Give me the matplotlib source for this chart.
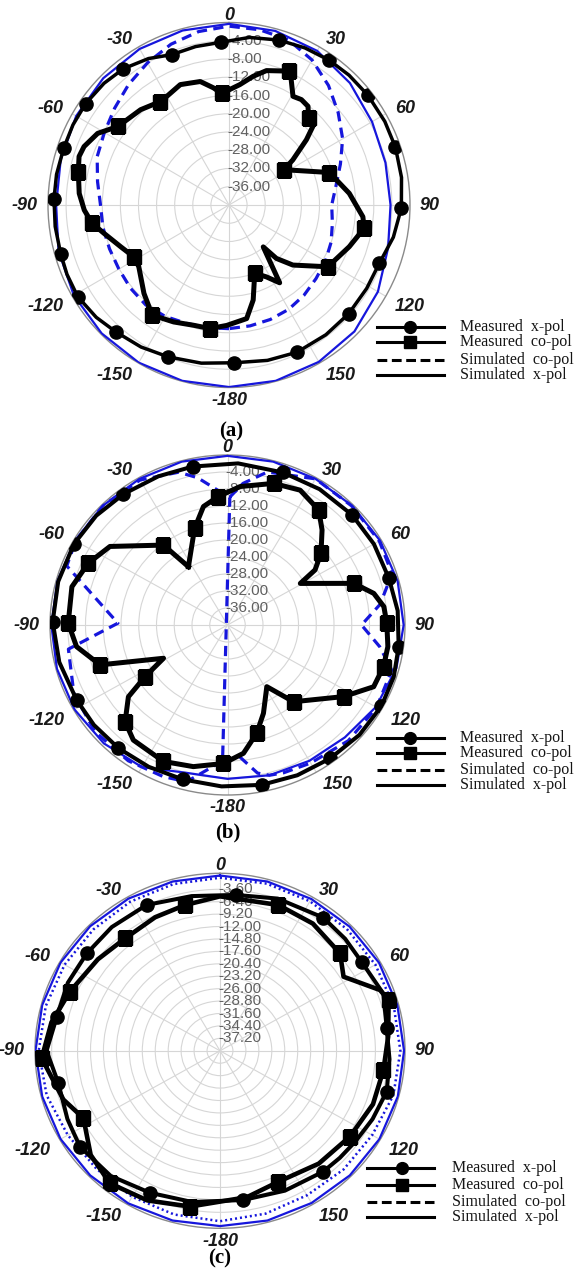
import numpy as np
import matplotlib
matplotlib.use("Agg")
import matplotlib.pyplot as plt
from matplotlib.lines import Line2D

W, H, DPI = 579, 1281, 100
BLUE = "#1616dc"

# angle labels round every chart
ang_ticks = [0, 30, 60, 90, 120, 150, 180, 210, 240, 270, 300, 330]
ang_labels = ["0", "30", "60", "90", "120", "150", "-180", "-150", "-120", "-90", "-60", "-30"]
legend_labels = ["Measured  x-pol", "Measured  co-pol", "Simulated  co-pol", "Simulated  x-pol"]

# ---------------- (a) ----------------
a_rings = [-36, -32, -28, -24, -20, -16, -12, -8, -4]
a_ring_labels = ["-36.00", "-32.00", "-28.00", "-24.00", "-20.00", "-16.00", "-12.00", "-8.00", "-4.00"]

a_xpol_ang = [-3, 7, 17, 26, 35, 43, 52, 62, 71, 81, 91, 101, 111, 121, 132, 143, 155, 166, 178,
              -170, -158, -148, -138, -130, -121, -113, -106, -97, -88, -80, -71, -63, -55, -46,
              -38, -29, -21, -12]
a_xpol_db = [-4.3, -3.0, -2.2, -1.7, -1.3, -1.1, -1.0, -1.0, -1.1, -1.4, -1.9, -3.0, -4.4, -4.5,
             -4.4, -4.4, -4.4, -4.9, -5.4, -4.8, -4.1, -3.3, -2.6, -1.7, -1.0, -1.1, -1.3, -1.3,
             -1.3, -1.3, -1.4, -1.3, -1.3, -1.6, -2.1, -3.3, -4.7, -4.5]

a_copol_ang = [-3.8, 5.2, 10.7, 15.7, 24.3, 26.6, 30.7, 34.7, 38.9, 42.8, 47.1, 50.1, 55.0, 57.5,
               72.2, 84.5, 95.0, 99.7, 109.0, 121.8, 133.0, 138.2, 140.5, 146.7, 152.3, 159.2,
               165.6, 171.1, -178.9, -171.2, -163.4, -154.5, -144.9, -135.9, -124.2, -118.4,
               -111.0, -102.7, -97.6, -92.0, -85.6, -77.6, -72.2, -68.2, -61.6, -55.0, -43.1,
               -34.0, -29.9, -22.2, -13.2, -7.6]
a_copol_db = [-15.5, -13.5, -11.3, -9.4, -7.8, -9.3, -12.3, -11.9, -12.2, -14.1, -14.7, -17.7,
              -22.8, -25.6, -16.7, -13.3, -10.3, -9.7, -11.9, -14.3, -20.7, -24.3, -28.1, -19.6,
              -22.2, -24.0, -18.5, -14.8, -13.6, -12.6, -12.5, -11.6, -10.5, -13.0, -15.9, -16.1,
              -14.4, -11.7, -9.5, -8.0, -6.8, -5.9, -5.2, -5.5, -7.0, -10.0, -11.4, -12.7, -12.5,
              -11.5, -12.2, -14.1]
a_copol_marks = [0, 4, 9, 13, 14, 17, 19, 25, 29, 32, 35, 38, 41, 45, 47]

a_simco_ang = list(range(-180, 180, 10))
a_simco_db = [-12.9, -12.7, -12.4, -11.8, -11.4, -11.6, -11.9, -11.9, -11.7, -11.6, -10.5, -9.0,
              -8.2, -7.0, -5.5, -4.0, -2.5, -1.4, -0.8, -1.0, -1.5, -3.3, -5.8, -8.5, -11.0,
              -13.8, -16.0, -17.3, -16.8, -16.0, -15.4, -14.9, -14.2, -13.6, -13.3, -13.1]

a_simx_ang = list(range(0, 360, 15))
a_simx_db = [-0.3, -0.5, -1.0, -2.2, -3.5, -4.2, -4.3, -3.6, -2.0, -0.8, -0.3, -0.1,
             -0.1, -0.1, -0.1, -0.2, -0.4, -1.0, -1.8, -1.5, -1.0, -0.7, -0.5, -0.4]

# ---------------- (b) ----------------
b_rings = a_rings
b_ring_labels = a_ring_labels

b_xpol_ang = [-11.9, 3.6, 19.2, 33, 47.3, 60, 73.2, 85, 97.5, 108, 118.9, 131, 143.6, 156, 168.4,
              -178, -164.5, -152, -139.7, -128, -117.4, -103, -88.9, -75, -61.2, -49, -37.3, -24]
b_xpol_db = [-1.9, -1.9, -2.0, -1.9, -1.8, -1.9, -2.0, -1.5, -1.1, -0.6, -0.4, -0.6, -1.0, -1.3,
             -1.6, -2.0, -2.3, -2.2, -2.0, -1.8, -1.7, -1.1, -0.6, -0.5, -0.5, -0.8, -1.3, -1.7]

b_copol_ang = [-32.7, -18.1, -11.0, -3.9, 5.0, 17.3, 27.3, 37.2, 43.6, 51.3, 56.7, 59.2, 71.0,
               77.3, 83.0, 89.4, 98.0, 105.6, 113.8, 122.8, 140.5, 148.6, 158.7, 165.5, 173.2,
               -178.4, -167.0, -155.8, -141.9, -134.6, -127.1, -123.2, -118.5, -108.1, -98.5,
               -89.3, -75.6, -65.2, -55.1, -37.5]
b_copol_db = [-23.7, -16.1, -11.6, -9.7, -7.3, -5.1, -4.3, -6.0, -9.1, -13.0, -16.4, -20.9, -9.9,
              -6.2, -4.5, -4.1, -3.5, -3.5, -4.0, -8.9, -16.6, -23.0, -17.7, -13.7, -9.6, -7.4,
              -5.8, -4.8, -5.6, -7.6, -12.0, -17.8, -23.6, -9.8, -5.6, -4.1, -3.8, -5.4, -7.7,
              -16.3]
b_copol_marks = [1, 3, 5, 7, 9, 12, 15, 17, 19, 20, 23, 25, 27, 29, 31, 33, 35, 37, 39]

b_simco_ang = [1, 6, 14, 30, 45, 60, 72, 82, 90, 98.5, 106, 120, 135, 150, 160, 165, 169, 175,
               -178, 1, -4, -11, -17, -30, -45, -60, -69, -89, -99, -115, -130, -145, -158,
               -166, -178]
b_simco_db = [-9.9, -6.5, -2.9, -0.3, -0.4, -0.5, -1.0, -5.3, -9.8, -5.3, -1.5, -1.2, -1.5, -2.5,
              -3.0, -3.4, -4.5, -8.9, -8.0, -9.9, -8.2, -4.7, -2.4, -0.6, -0.3, -0.5, -1.2,
              -15.3, -3.7, -1.8, -1.0, -1.0, -1.5, -2.0, -8.0]

b_simx_ang = list(range(0, 360, 15))
b_simx_db = [-0.2, -0.2, -0.3, -0.3, -0.3, -0.3, -0.3, -0.6, -1.4, -2.6, -3.1, -3.4,
             -3.8, -4.0, -1.4, -0.6, -0.2, -0.2, -0.3, -0.3, -0.3, -0.3, -0.3, -0.2]

# ---------------- (c) ----------------
c_rings = [-37.2, -34.4, -31.6, -28.8, -26.0, -23.2, -20.4, -17.6, -14.8, -12.0, -9.2, -6.4, -3.6]
c_ring_labels = ["-37.20", "-34.40", "-31.60", "-28.80", "-26.00", "-23.20", "-20.40", "-17.60",
                 "-14.80", "-12.00", "-9.20", "-6.40", "-3.60"]

c_xpol_ang = [5.6, 20, 36.6, 47, 57, 70, 82, 93, 104.3, 115, 125, 133, 140.7, 156, 171.5, -170,
              -154.7, -140, -125.5, -115, -101.8, -90, -77.7, -65, -52.7, -40, -25.8, -10]
c_xpol_db = [-4.7, -3.5, -2.6, -3.0, -3.4, -2.4, -3.6, -3.3, -2.8, -3.6, -4.3, -4.6, -4.8, -5.5,
             -6.0, -5.4, -4.6, -3.2, -2.8, -3.6, -4.3, -2.5, -3.9, -3.7, -3.8, -3.6, -3.5, -4.6]
c_xpol_marks = [0, 2, 4, 6, 8, 12, 14, 16, 18, 20, 22, 24, 26]

c_copol_ang = [-13, 0, 21, 35, 49.8, 58, 68.4, 72.6, 85, 97, 110, 124.5, 140, 156.9, 170, -169.5,
               -155, -141.4, -130, -117.2, -108, -92.5, -80, -67.7, -52, -39, -25]
c_copol_db = [-6.3, -5.2, -4.8, -5.0, -6.0, -8.5, -2.8, -1.8, -3.5, -4.4, -4.8, -5.9, -6.8, -7.9,
              -6.5, -4.3, -2.8, -1.8, -3.5, -6.8, -4.4, -1.4, -3.0, -4.9, -6.5, -7.4, -6.8]
c_copol_marks = [0, 2, 4, 7, 9, 11, 13, 15, 17, 19, 21, 23, 25]

c_simco_ang = list(range(0, 360, 15))
c_simco_db = [-1.0, -1.0, -1.1, -1.2, -1.2, -1.1, -1.0, -1.2, -2.0, -2.2, -2.4, -2.0,
              -1.6, -1.8, -2.0, -2.3, -2.0, -1.2, -0.8, -1.0, -1.2, -1.3, -1.2, -1.1]

c_simx_ang = list(range(0, 360, 15))
c_simx_db = [-0.5, -0.5, -0.5, -0.4, -0.3, -0.3, -0.2, -0.2, -0.2, -0.3, -0.4, -0.4,
             -0.5, -0.4, -0.3, -0.3, -0.2, -0.2, -0.1, -0.2, -0.2, -0.3, -0.4, -0.5]


fig = plt.figure(figsize=(W / DPI, H / DPI), dpi=DPI)


def closed(ang, db):
    return np.deg2rad(list(ang) + [ang[0]]), list(db) + [db[0]]


def text_width(s, em):
    return sum(0.333 * em if ch == "-" else 0.556 * em for ch in s)


def polar_panel(cx, cy, rx, ry, rings, ring_labels):
    ax = fig.add_axes([(cx - rx) / W, 1 - (cy + ry) / H, 2 * rx / W, 2 * ry / H],
                      projection="polar")
    ax.set_aspect("auto")
    ax.set_theta_zero_location("N")
    ax.set_theta_direction(-1)
    ax.set_ylim(-40, 0)
    ax.set_xticks(np.deg2rad(np.arange(0, 360, 30)))
    ax.set_xticks(np.deg2rad(np.arange(0, 360, 5)), minor=True)
    ax.set_xticklabels([])
    ax.set_yticks(rings)
    ax.set_yticklabels([])
    ax.tick_params(axis="x", which="both", direction="in", length=5, width=0.7, colors="#7a7a7a")
    ax.tick_params(axis="y", length=0)
    ax.set_axisbelow(True)
    ax.grid(True, which="major", color="#d6d6d6", lw=0.8)
    ax.spines["polar"].set_color("#8a8a8a")
    ax.spines["polar"].set_linewidth(1.0)

    for r, lab in zip(rings, ring_labels):
        ax.annotate(lab, xy=(0, r), xytext=(-2, 0), textcoords="offset pixels",
                    ha="left", va="center", fontsize=11, color="#606060",
                    family="Liberation Sans", zorder=1)

    em = 13 * DPI / 72
    for a, lab in zip(ang_ticks, ang_labels):
        t = np.deg2rad(a)
        s, c = np.sin(t), np.cos(t)
        dx = 0.0 if abs(s) < 1e-6 else s * 8 + np.sign(s) * (0.5 * text_width(lab, em) + 2)
        if c > 1e-6:
            dy = 7.5 * np.sqrt(c)
        elif c < -1e-6:
            dy = -13 * abs(c) ** 0.3
        else:
            dy = 0.0
        ax.annotate(lab, xy=(0.5 + 0.5 * s, 0.5 + 0.5 * c), xycoords="axes fraction",
                    xytext=(dx, dy), textcoords="offset pixels",
                    ha="center", va="center", fontsize=13, fontweight="bold",
                    fontstyle="italic", family="Liberation Sans", color="#1a1a1a")
    return ax


def legend_block(x0, x1, xm, xt, ys):
    styles = [("-", "o"), ("-", "s"), ("--", None), ("-", None)]
    for (ls, mk), y, lab in zip(styles, ys, legend_labels):
        yy = 1 - y / H
        ln = Line2D([x0 / W, x1 / W], [yy, yy], color="black", lw=2.2,
                    transform=fig.transFigure)
        if ls == "--":
            ln.set_dashes((3.2, 1.5))
        fig.add_artist(ln)
        if mk:
            fig.add_artist(Line2D([xm / W], [yy], marker=mk, ms=8.5, color="black",
                                  transform=fig.transFigure))
        fig.text(xt / W, yy, lab, ha="left", va="center", fontsize=11.5,
                 family="Liberation Serif", color="#151515")


def draw_curves(ax, simx, simco, xpol, copol, co_style="dashed"):
    t, r = closed(*simx)
    ax.plot(t, r, color=BLUE, lw=1.6, zorder=3)
    t, r = (np.deg2rad(simco[0]), simco[1]) if simco[2] == "open" else closed(simco[0], simco[1])
    if co_style == "dashed":
        ax.plot(t, r, color=BLUE, lw=2.3, dashes=(3.2, 2.0), zorder=3)
    else:
        ax.plot(t, r, color=BLUE, lw=1.8, dashes=(0.8, 1.2), zorder=3)
    t, r = closed(xpol[0], xpol[1])
    ax.plot(t, r, color="black", lw=xpol[3], marker="o", ms=9.5, markevery=xpol[2], zorder=4)
    t, r = closed(copol[0], copol[1])
    ax.plot(t, r, color="black", lw=copol[3], marker="s", ms=9.5, markevery=copol[2], zorder=5)


# (a)
ax_a = polar_panel(229, 205, 181, 182.5, a_rings, a_ring_labels)
draw_curves(ax_a, (a_simx_ang, a_simx_db), (a_simco_ang, a_simco_db, "closed"),
            (a_xpol_ang, a_xpol_db, list(range(0, len(a_xpol_ang), 2)), 2.5),
            (a_copol_ang, a_copol_db, a_copol_marks, 3.6))
legend_block(377, 444, 410, 460, [327, 342, 360, 375])
fig.text(231 / W, 1 - 431 / H, "(a)", ha="center", va="center", fontsize=15,
         fontweight="bold", family="Liberation Serif")

# (b)
ax_b = polar_panel(227.5, 625, 177.5, 170, b_rings, b_ring_labels)
draw_curves(ax_b, (b_simx_ang, b_simx_db), (b_simco_ang, b_simco_db, "open"),
            (b_xpol_ang, b_xpol_db, list(range(0, len(b_xpol_ang), 2)), 2.9),
            (b_copol_ang, b_copol_db, b_copol_marks, 3.6))
legend_block(377, 444, 410, 460, [738, 753, 770, 785])
fig.text(228 / W, 1 - 832 / H, "(b)", ha="center", va="center", fontsize=15,
         fontweight="bold", family="Liberation Serif")

# (c)
ax_c = polar_panel(220, 1050.8, 185, 177.5, c_rings, c_ring_labels)
draw_curves(ax_c, (c_simx_ang, c_simx_db), (c_simco_ang, c_simco_db, "closed"),
            (c_xpol_ang, c_xpol_db, c_xpol_marks, 2.9),
            (c_copol_ang, c_copol_db, c_copol_marks, 3.3), co_style="dotted")
legend_block(367, 434, 402, 452, [1168, 1185, 1202, 1217])
fig.text(220 / W, 1 - 1258 / H, "(c)", ha="center", va="center", fontsize=15,
         fontweight="bold", family="Liberation Serif")

fig.savefig("out.png", dpi=DPI)
